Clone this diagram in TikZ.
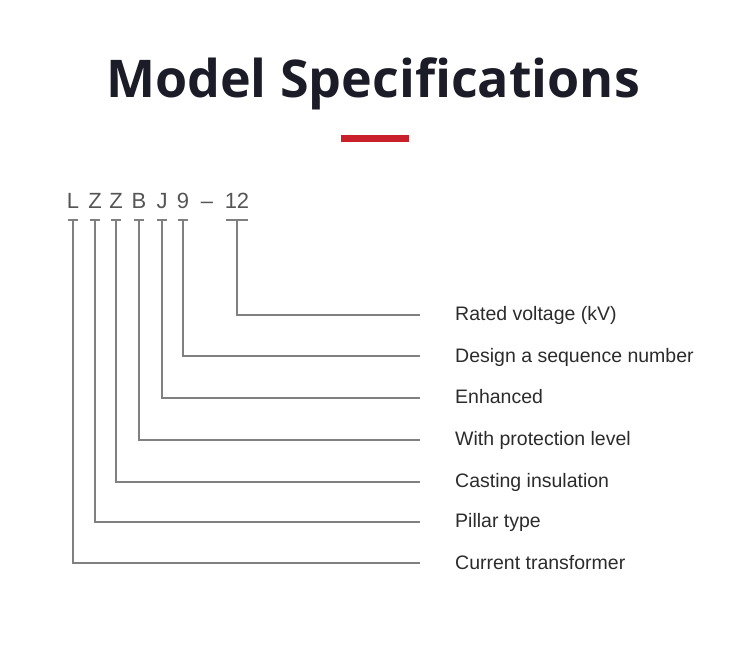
\documentclass[tikz,border=0pt]{standalone}
\usepackage{fontspec}
\setmainfont{Liberation Sans}
\newfontfamily\titlefont{Open Sans}
\usetikzlibrary{positioning, calc}

\definecolor{titleink}{HTML}{1B1C28}
\definecolor{accentred}{HTML}{C9202C}
\definecolor{codeink}{HTML}{555555}
\definecolor{leadink}{HTML}{808080}
\definecolor{textink}{HTML}{2B2B2B}

\begin{document}
\begin{tikzpicture}[
		x=1pt, y=-1pt,
		% Title and the red bar under it
		mainTitle/.style={font=\titlefont\bfseries\fontsize{52}{60}\selectfont, text=titleink, inner sep=0pt, anchor=base},
		accentBar/.style={fill=accentred, draw=none},
		% Letters of the model code
		codeChar/.style={font=\fontsize{22}{24}\selectfont, text=codeink, inner sep=0pt, anchor=base},
		% Leader lines and their labels
		lead/.style={draw=leadink, line width=1.1pt},
		term label/.style={font=\fontsize{19.5}{22}\selectfont, text=textink, inner sep=0pt, anchor=base west}
		]
		\useasboundingbox (0,0) rectangle (750,670);
		
		% --- 1. Title ---
		\node[mainTitle] (title) at (373,97) {Model Specifications};
		\fill[accentBar] (341,135) rectangle (409,142);
		
		% --- 2. Model code ---
		\foreach \cx/\ch/\nm in {73/L/cL, 95/Z/cZa, 116/Z/cZb, 139/B/cB, 162/J/cJ, 183/9/cN, 207/--/cD, 237/12/cV}
			\node[codeChar] (\nm) at (\cx,208) {\ch};
		
		% --- 3. Labels ---
		\node[term label] (lbV)  at (455,320) {Rated voltage (kV)};
		\node[term label] (lbN)  at (455,362) {Design a sequence number};
		\node[term label] (lbJ)  at (455,403) {Enhanced};
		\node[term label] (lbB)  at (455,445) {With protection level};
		\node[term label] (lbZb) at (455,487) {Casting insulation};
		\node[term label] (lbZa) at (455,527) {Pillar type};
		\node[term label] (lbL)  at (455,569) {Current transformer};
		
		% --- 4. Leaders from the letters to the labels ---
		\foreach \nm/\lb/\ly/\hw in {cL/lbL/563/5, cZa/lbZa/522/5, cZb/lbZb/482/5, cB/lbB/440/5, cJ/lbJ/398/5, cN/lbN/356/5, cV/lbV/315/11}{
			\coordinate (t\nm) at (\nm |- 0,220);
			\coordinate (e\lb) at (420,\ly);
			\draw[lead] ($(t\nm)+(-\hw,0)$) -- ($(t\nm)+(\hw,0)$);
			\draw[lead] (t\nm) |- (e\lb);
		}
		
	\end{tikzpicture}
\end{document}
